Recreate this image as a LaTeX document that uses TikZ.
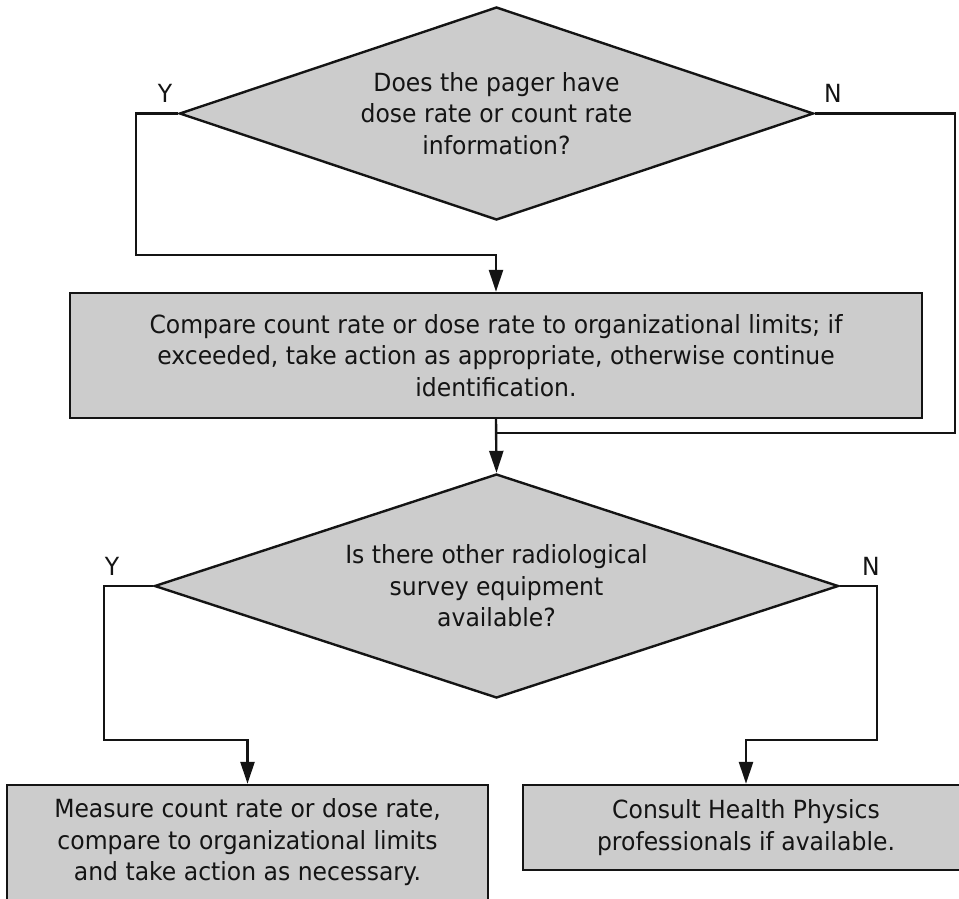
\documentclass[tikz,border=0pt]{standalone}
\usepackage{fontspec}
\setmainfont[FakeStretch=0.94]{DejaVu Sans}
\usetikzlibrary{shapes.geometric,arrows.meta}
\definecolor{boxgray}{RGB}{204,204,204}
\definecolor{inkline}{RGB}{20,20,20}

\begin{document}
\begin{tikzpicture}[x=1pt,y=-1pt,
  every node/.style={font=\fontsize{25}{31.5}\selectfont, text=inkline},
  decision/.style={diamond, aspect=2.98, draw=inkline, fill=boxgray, line width=2.4pt, inner sep=0pt, align=center},
  process/.style={rectangle, draw=inkline, fill=boxgray, line width=2.4pt, inner sep=0pt, align=center},
  flow/.style={draw=inkline, line width=2.4pt},
  flowarrow/.style={flow, -{Triangle[length=22pt,width=14pt]}},
  answer/.style={inner sep=0pt, anchor=base}
]
\useasboundingbox (0,0) rectangle (959,898);
\clip (0,0) rectangle (959,898);

% decisions and process steps
\node[decision, minimum width=634pt, minimum height=213pt] (d1) at (496.5,113.5)
  {Does the pager have\\dose rate or count rate\\information?};
\node[process, minimum width=852pt, minimum height=125pt] (b1) at (496,355.5)
  {Compare count rate or dose rate to organizational limits; if\\exceeded, take action as appropriate, otherwise continue\\identification.};
\node[decision, minimum width=684pt, minimum height=224pt] (d2) at (496.5,586)
  {Is there other radiological\\survey equipment\\available?};
\node[process, minimum width=481pt, minimum height=115pt] (b3) at (247.5,842.5)
  {Measure count rate or dose rate,\\compare to organizational limits\\and take action as necessary.};
\node[process, minimum width=446pt, minimum height=85pt] (b4) at (746,827.5)
  {Consult Health Physics\\professionals if available.};

% branch labels
\node[answer] (y1) at (165,102) {Y};
\node[answer] (n1) at (833,102) {N};
\node[answer] (y2) at (112,575) {Y};
\node[answer] (n2) at (871,575) {N};

% bends of the connectors
\coordinate (ytop) at (136,255);
\coordinate (ntop) at (955,433);
\coordinate (ybot) at (104,740);
\coordinate (nbot) at (877,740);

% connectors
\draw[flowarrow] (d1.west) -| (ytop) -| (b1.north);
\draw[flow] (d1.east) -| (ntop) -- (ntop -| b1.south);
\draw[flowarrow] (b1.south) -- (d2.north);
\draw[flowarrow] (d2.west) -| (ybot) -| (b3.north);
\draw[flowarrow] (d2.east) -| (nbot) -| (b4.north);
\end{tikzpicture}
\end{document}
